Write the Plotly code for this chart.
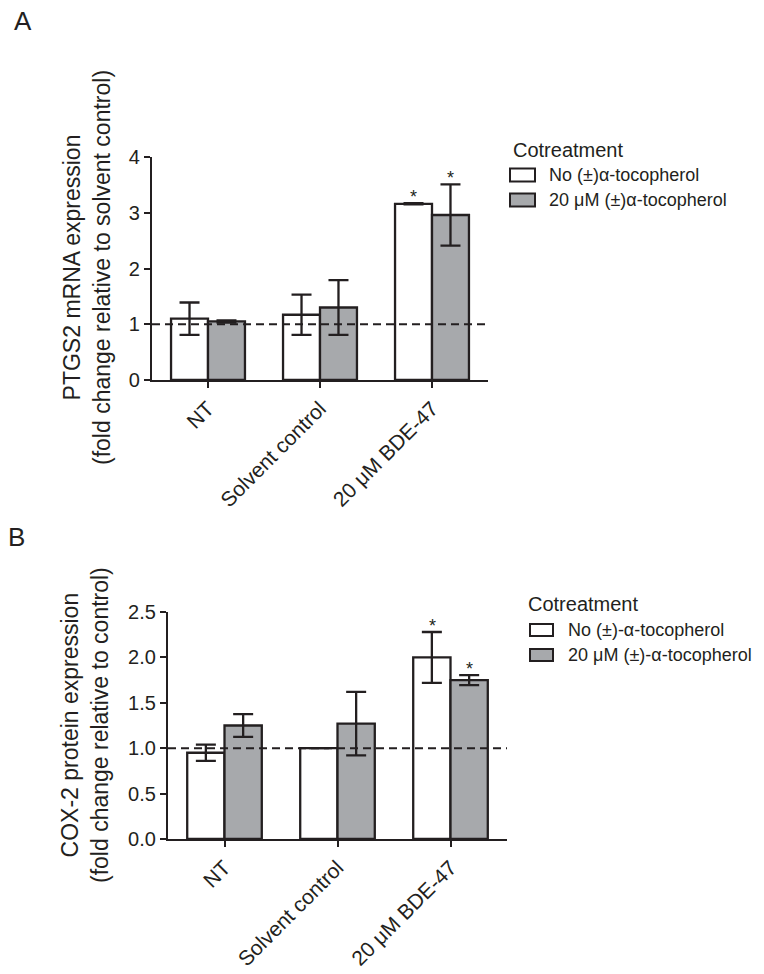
import plotly.graph_objects as go

# ---------------- data ----------------
categories = ["NT", "Solvent control", "20 μM BDE-47"]

# Panel A: PTGS2 mRNA expression
a_no_toc = [1.10, 1.17, 3.16]
a_no_toc_err = [0.29, 0.36, 0.01]
a_toc = [1.05, 1.30, 2.96]
a_toc_err = [0.02, 0.49, 0.55]
a_no_toc_sig = [False, False, True]
a_toc_sig = [False, False, True]

# Panel B: COX-2 protein expression
b_no_toc = [0.95, 1.00, 2.00]
b_no_toc_err = [0.09, 0.0, 0.28]
b_toc = [1.25, 1.27, 1.75]
b_toc_err = [0.125, 0.35, 0.055]
b_no_toc_sig = [False, False, True]
b_toc_sig = [False, False, True]

a_names = ["No (±)α-tocopherol", "20 μM (±)α-tocopherol"]
b_names = ["No (±)-α-tocopherol", "20 μM (±)-α-tocopherol"]
legend_title = "Cotreatment"

a_yticks = [0, 1, 2, 3, 4]
b_yticks = [0.0, 0.5, 1.0, 1.5, 2.0, 2.5]

# ---------------- style ----------------
FONT = "Liberation Sans, Arial, Helvetica, sans-serif"
INK = "#231f20"
GRAY = "#a7a9ac"
FILLS = ["white", GRAY]
W, H = 764, 974


def px_x(p):
    return p / W


def px_y(p):
    return 1 - p / H


fig = go.Figure()


def add_bars(vals, errs, name, color, xa, ya):
    fig.add_trace(go.Bar(
        x=categories, y=vals, name=name, xaxis=xa, yaxis=ya, showlegend=False,
        marker=dict(color=color, line=dict(color=INK, width=2.3)),
        error_y=dict(type="data", array=errs, visible=True, color=INK,
                     thickness=2.3, width=10),
    ))


add_bars(a_no_toc, a_no_toc_err, a_names[0], FILLS[0], "x", "y")
add_bars(a_toc, a_toc_err, a_names[1], FILLS[1], "x", "y")
add_bars(b_no_toc, b_no_toc_err, b_names[0], FILLS[0], "x2", "y2")
add_bars(b_toc, b_toc_err, b_names[1], FILLS[1], "x2", "y2")

annotations = []
shapes = []

# significance asterisks, placed above the error bars
bar_half = 18.5
for vals, errs, sig, xr, yr, shift in [
    (a_no_toc, a_no_toc_err, a_no_toc_sig, "x", "y", -bar_half),
    (a_toc, a_toc_err, a_toc_sig, "x", "y", bar_half),
    (b_no_toc, b_no_toc_err, b_no_toc_sig, "x2", "y2", -bar_half),
    (b_toc, b_toc_err, b_toc_sig, "x2", "y2", bar_half),
]:
    for c, v, e, s in zip(categories, vals, errs, sig):
        if s:
            annotations.append(dict(
                x=c, y=v + e, xref=xr, yref=yr, text="*", showarrow=False,
                xshift=shift, yanchor="bottom", yshift=-6,
                font=dict(family=FONT, size=18, color=INK)))

# y-axis titles
annotations.append(dict(
    x=px_x(87), y=px_y(268), xref="paper", yref="paper", textangle=-90,
    text="PTGS2 mRNA expression<br>(fold change relative to solvent control)",
    showarrow=False, xanchor="center", yanchor="middle",
    font=dict(family=FONT, size=23, color=INK)))
annotations.append(dict(
    x=px_x(85), y=px_y(725), xref="paper", yref="paper", textangle=-90,
    text="COX-2 protein expression<br>(fold change relative to control)",
    showarrow=False, xanchor="center", yanchor="middle",
    font=dict(family=FONT, size=23, color=INK)))

# panel letters
annotations.append(dict(x=px_x(12), y=px_y(4), xref="paper", yref="paper",
                        text="A", showarrow=False, xanchor="left", yanchor="top",
                        font=dict(family=FONT, size=26, color=INK)))
annotations.append(dict(x=px_x(6), y=px_y(520), xref="paper", yref="paper",
                        text="B", showarrow=False, xanchor="left", yanchor="top",
                        font=dict(family=FONT, size=26, color=INK)))

# dashed reference line at 1
for xr, yr in [("x domain", "y"), ("x2 domain", "y2")]:
    shapes.append(dict(type="line", xref=xr, yref=yr, x0=0, x1=1, y0=1, y1=1,
                       line=dict(color=INK, width=2, dash="8px,5px")))


# legends (GraphPad-style wide swatches)
def add_legend(names, title_x, title_y, box_x0, box_x1, box_h, text_x, row_ys):
    annotations.append(dict(x=px_x(title_x), y=px_y(title_y), xref="paper",
                            yref="paper", text=legend_title, showarrow=False,
                            xanchor="left", yanchor="middle",
                            font=dict(family=FONT, size=20, color=INK)))
    for name, fill, ry in zip(names, FILLS, row_ys):
        shapes.append(dict(type="rect", xref="paper", yref="paper",
                           x0=px_x(box_x0), x1=px_x(box_x1),
                           y0=px_y(ry + box_h / 2), y1=px_y(ry - box_h / 2),
                           fillcolor=fill, line=dict(color=INK, width=2)))
        annotations.append(dict(x=px_x(text_x), y=px_y(ry), xref="paper",
                                yref="paper", text=name, showarrow=False,
                                xanchor="left", yanchor="middle",
                                font=dict(family=FONT, size=18, color=INK)))


add_legend(a_names, 511, 150, 510, 535, 13, 547, [175, 200])
add_legend(b_names, 526, 604, 530, 553, 12, 566, [630, 655])

axis_common = dict(showgrid=False, zeroline=False, showline=True,
                   linecolor=INK, linewidth=2.3, ticks="outside", ticklen=6,
                   tickwidth=2, tickcolor=INK, automargin=False,
                   tickfont=dict(family=FONT, size=20, color=INK))
xfont = dict(family=FONT, size=21, color=INK)

fig.update_layout(
    width=W, height=H, margin=dict(l=0, r=0, t=0, b=0, autoexpand=False),
    paper_bgcolor="white", plot_bgcolor="white",
    barmode="group", bargap=0.34, bargroupgap=0,
    font=dict(family=FONT, color=INK),
    xaxis=dict(domain=[px_x(152), px_x(488)], anchor="y", tickangle=-45,
               range=[-0.5, 2.5], **{**axis_common, "tickfont": xfont}),
    yaxis=dict(domain=[px_y(380), px_y(157)], anchor="x", range=[0, 4],
               tickvals=a_yticks, **axis_common),
    xaxis2=dict(domain=[px_x(168), px_x(507)], anchor="y2", tickangle=-45,
                range=[-0.5, 2.5], **{**axis_common, "tickfont": xfont}),
    yaxis2=dict(domain=[px_y(839), px_y(612)], anchor="x2", range=[0, 2.5],
                tickvals=b_yticks, tickformat=".1f", **axis_common),
    annotations=annotations,
    shapes=shapes,
    showlegend=False,
)

fig.write_html("out.html", config={"displayModeBar": False},
               post_script="document.body.style.margin='0';document.body.style.overflow='hidden';")
